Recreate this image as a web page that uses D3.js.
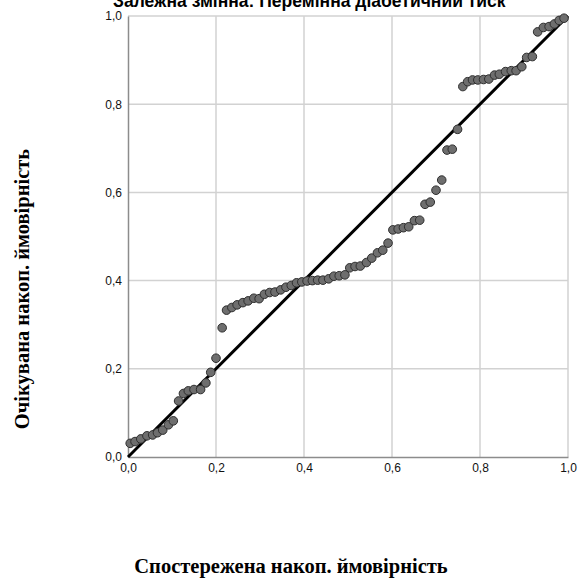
<!DOCTYPE html>
<html>
<head>
<meta charset="utf-8">
<script src="https://cdn.jsdelivr.net/npm/d3@7"></script>
<style>
  html, body { margin: 0; padding: 0; background: #fff; }
  svg { display: block; }
</style>
</head>
<body>
<div id="chart"></div>
<script>
// Normal P-P plot of the regression residual
const titleText = "Залежна змінна: Перемінна діабетичний тиск";
const xTitle = "Спостережена накоп. ймовірність";
const yTitle = "Очікувана накоп. ймовірність";

const tickValues = [0, 0.2, 0.4, 0.6, 0.8, 1.0];
const tickLabels = ["0,0", "0,2", "0,4", "0,6", "0,8", "1,0"];

// observed cumulative probability
const observed = [
  0.005, 0.016, 0.029, 0.043, 0.056, 0.067, 0.079, 0.092, 0.103, 0.115,
  0.126, 0.137, 0.150, 0.165, 0.177, 0.188, 0.200, 0.214, 0.224, 0.236,
  0.248, 0.261, 0.273, 0.286, 0.298, 0.310, 0.322, 0.334, 0.347, 0.359,
  0.371, 0.383, 0.395, 0.407, 0.419, 0.431, 0.443, 0.456, 0.468, 0.480,
  0.493, 0.504, 0.516, 0.528, 0.542, 0.554, 0.567, 0.579, 0.591, 0.602,
  0.614, 0.626, 0.638, 0.651, 0.663, 0.675, 0.687, 0.700, 0.713, 0.725,
  0.737, 0.749, 0.761, 0.772, 0.783, 0.795, 0.808, 0.820, 0.833, 0.844,
  0.858, 0.871, 0.882, 0.895, 0.906, 0.919, 0.931, 0.944, 0.957, 0.969,
  0.980, 0.991
];
// expected cumulative probability
const expected = [
  0.031, 0.035, 0.041, 0.048, 0.050, 0.055, 0.061, 0.073, 0.082, 0.127,
  0.144, 0.150, 0.153, 0.153, 0.168, 0.192, 0.224, 0.293, 0.333, 0.339,
  0.345, 0.350, 0.354, 0.360, 0.359, 0.369, 0.373, 0.374, 0.379, 0.385,
  0.389, 0.395, 0.397, 0.399, 0.400, 0.401, 0.401, 0.404, 0.410, 0.411,
  0.413, 0.429, 0.432, 0.433, 0.441, 0.451, 0.463, 0.469, 0.485, 0.515,
  0.517, 0.520, 0.522, 0.536, 0.537, 0.573, 0.578, 0.605, 0.628, 0.696,
  0.698, 0.743, 0.840, 0.851, 0.855, 0.855, 0.856, 0.857, 0.866, 0.868,
  0.874, 0.876, 0.876, 0.885, 0.906, 0.908, 0.964, 0.974, 0.976, 0.982,
  0.990, 0.995
];

const W = 584, H = 579;
const margin = { left: 128, right: 16, top: 16, bottom: 122 };

const svg = d3.select("#chart").append("svg")
  .attr("width", W).attr("height", H);

const x = d3.scaleLinear().domain([0, 1]).range([margin.left, W - margin.right]);
const y = d3.scaleLinear().domain([0, 1]).range([H - margin.bottom, margin.top]);

// title (runs up against the top edge)
svg.append("text")
  .attr("x", 113).attr("y", 7)
  .attr("font-family", "Liberation Sans, Arial, sans-serif")
  .attr("font-size", 17.5).attr("font-weight", "bold")
  .attr("fill", "#000")
  .text(titleText);

// gridlines
const grid = svg.append("g").attr("stroke", "#d2d2d2").attr("stroke-width", 1.5);
grid.selectAll("line.v").data(tickValues.slice(1)).join("line")
  .attr("class", "v")
  .attr("x1", d => x(d)).attr("x2", d => x(d))
  .attr("y1", y(0)).attr("y2", y(1));
grid.selectAll("line.h").data(tickValues.slice(1)).join("line")
  .attr("class", "h")
  .attr("x1", x(0)).attr("x2", x(1))
  .attr("y1", d => y(d)).attr("y2", d => y(d));

// axes
const fmt = d => tickLabels[tickValues.indexOf(d)];
const xAxis = d3.axisBottom(x).tickValues(tickValues).tickFormat(fmt).tickSize(0).tickPadding(6);
const yAxis = d3.axisLeft(y).tickValues(tickValues).tickFormat(fmt).tickSize(0).tickPadding(6);

const gx = svg.append("g").attr("transform", `translate(0,${y(0)})`).call(xAxis);
const gy = svg.append("g").attr("transform", `translate(${x(0)},0)`).call(yAxis);
[gx, gy].forEach(g => {
  g.select(".domain").attr("stroke", "#8c8c8c").attr("stroke-width", 1.5);
  g.selectAll("text")
    .attr("font-family", "Liberation Sans, Arial, sans-serif")
    .attr("font-size", 12).attr("fill", "#111");
});

// reference diagonal
svg.append("line")
  .attr("x1", x(0)).attr("y1", y(0))
  .attr("x2", x(1)).attr("y2", y(1))
  .attr("stroke", "#000").attr("stroke-width", 3);

// points
const pts = observed.map((o, i) => ({ o, e: expected[i] }));
svg.append("g").selectAll("circle").data(pts).join("circle")
  .attr("cx", d => x(d.o)).attr("cy", d => y(d.e))
  .attr("r", 4.3)
  .attr("fill", "#6e6e6e")
  .attr("stroke", "#2e2e2e").attr("stroke-width", 1);

// axis titles
svg.append("text")
  .attr("x", 291).attr("y", 573)
  .attr("text-anchor", "middle")
  .attr("font-family", "Liberation Serif, Times New Roman, serif")
  .attr("font-size", 20.5).attr("font-weight", "bold")
  .attr("fill", "#000")
  .text(xTitle);

svg.append("text")
  .attr("transform", "translate(29,289) rotate(-90)")
  .attr("text-anchor", "middle")
  .attr("font-family", "Liberation Serif, Times New Roman, serif")
  .attr("font-size", 20.5).attr("font-weight", "bold")
  .attr("fill", "#000")
  .text(yTitle);
</script>
</body>
</html>
